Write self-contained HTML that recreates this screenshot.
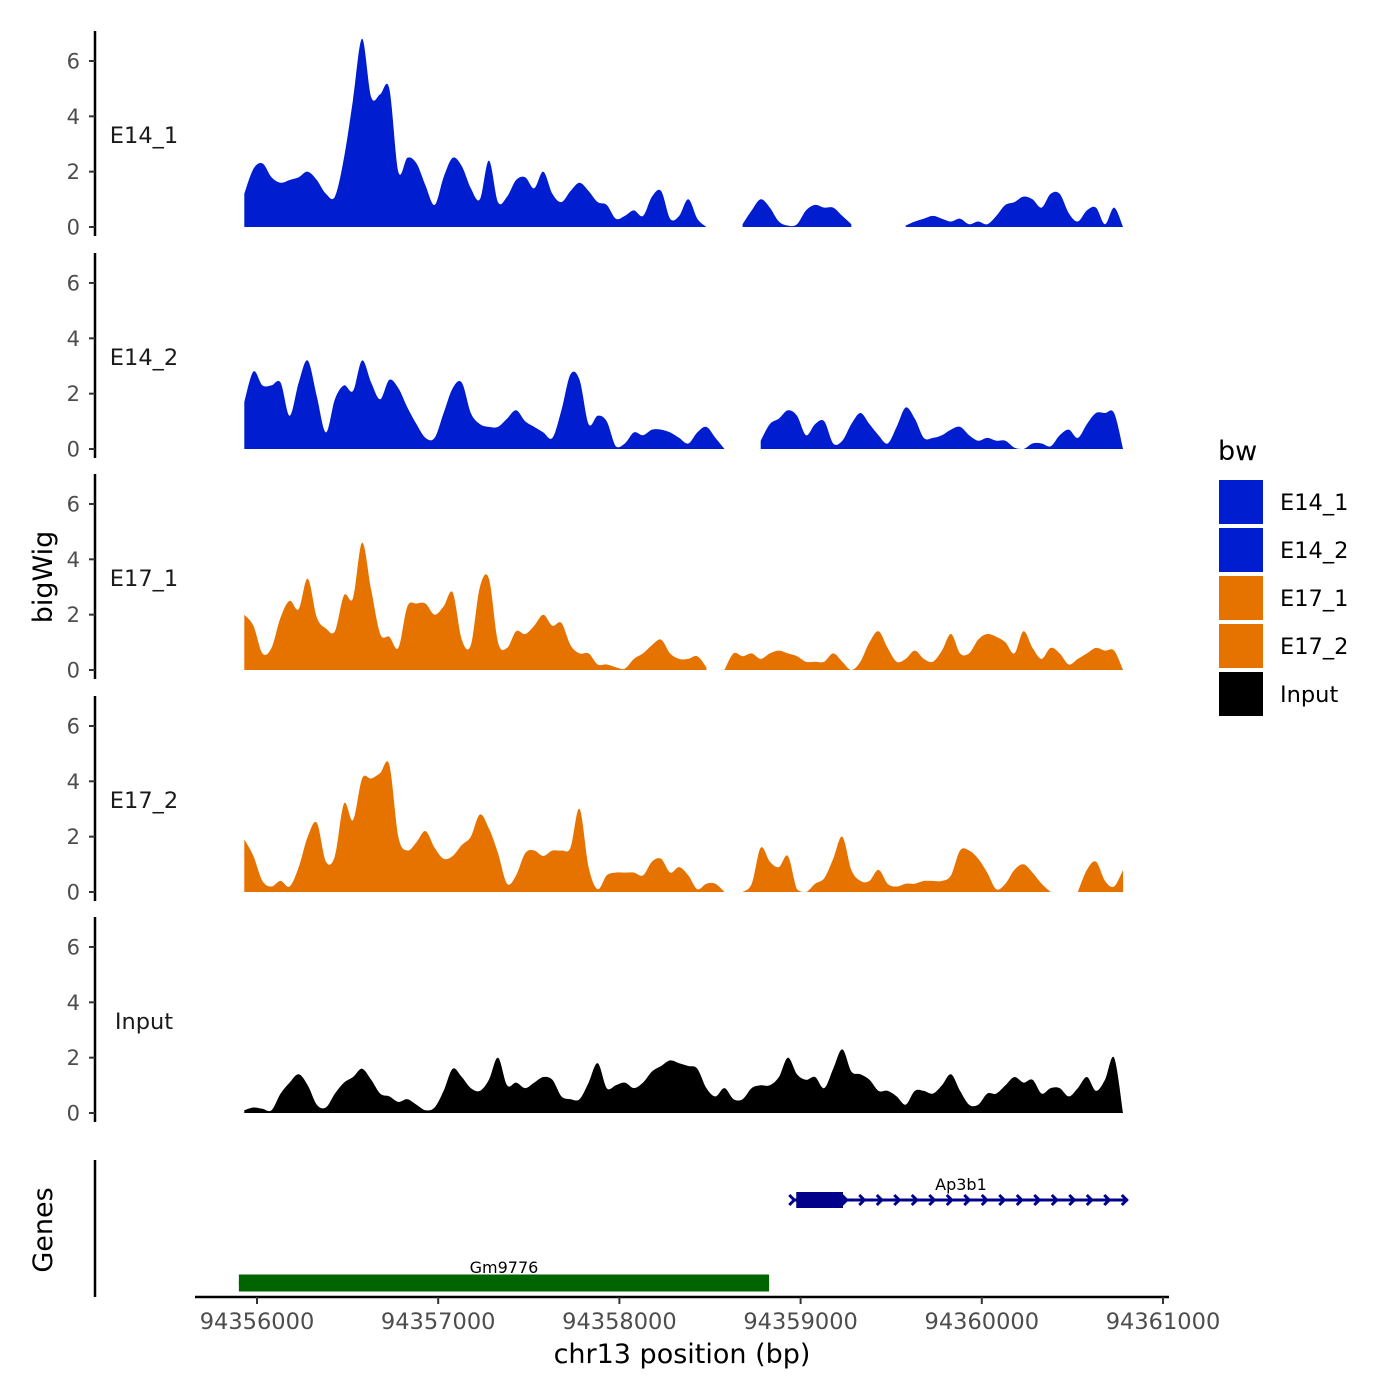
<!DOCTYPE html>
<html><head><meta charset="utf-8"><style>
body{margin:0;background:#fff}
svg{display:block;font-family:"DejaVu Sans","Liberation Sans",sans-serif}
</style></head><body>
<svg id="chart" width="1400" height="1400" viewBox="0 0 1400 1400" xmlns="http://www.w3.org/2000/svg"></svg>
<script>
const regionStart = 94355930;
const binStep = 50;
const trackNames = ["E14_1","E14_2","E17_1","E17_2","Input"];
const e14_1 = [1.2,2.1,2.3,1.8,1.6,1.7,1.8,2.0,1.7,1.2,1.1,2.5,4.6,6.8,4.7,4.8,5.0,2.0,2.5,2.3,1.5,0.8,1.8,2.5,2.2,1.4,1.0,2.4,0.9,1.1,1.7,1.8,1.4,2.0,1.2,0.9,1.3,1.6,1.3,0.9,0.8,0.3,0.4,0.6,0.4,1.1,1.3,0.3,0.4,1.0,0.3,0,null,null,null,0.1,0.6,1.0,0.7,0.2,0.05,0.1,0.6,0.8,0.7,0.7,0.4,0.1,null,null,null,null,null,0.05,0.2,0.3,0.4,0.3,0.2,0.3,0.1,0.2,0.1,0.4,0.8,0.9,1.1,1.0,0.7,1.2,1.2,0.5,0.2,0.6,0.7,0.1,0.7,0];
const e14_2 = [1.7,2.8,2.3,2.3,2.4,1.2,2.4,3.2,1.9,0.6,1.8,2.3,2.1,3.2,2.4,1.8,2.5,2.2,1.5,0.9,0.4,0.4,1.3,2.2,2.4,1.3,0.9,0.8,0.8,1.1,1.4,1.0,0.8,0.6,0.4,1.4,2.7,2.5,0.9,1.2,1.0,0.1,0.2,0.6,0.5,0.7,0.7,0.6,0.4,0.2,0.6,0.8,0.4,0.0,null,null,null,0.3,0.9,1.1,1.4,1.2,0.5,0.9,1.0,0.2,0.3,0.9,1.3,0.9,0.5,0.2,0.8,1.5,1.1,0.4,0.4,0.5,0.7,0.8,0.5,0.3,0.4,0.3,0.3,0.05,0,0.2,0.2,0.1,0.5,0.7,0.4,0.9,1.3,1.3,1.3,0];
const e17_1 = [2.0,1.6,0.6,0.8,1.9,2.5,2.2,3.3,1.9,1.5,1.4,2.7,2.6,4.6,2.9,1.3,1.2,0.8,2.3,2.4,2.4,2.0,2.3,2.8,1.1,0.9,3.0,3.3,1.0,0.8,1.4,1.3,1.6,2.0,1.6,1.7,0.9,0.6,0.6,0.2,0.2,0.1,0.05,0.4,0.6,0.9,1.1,0.6,0.4,0.4,0.5,0.1,null,0.0,0.6,0.5,0.6,0.4,0.6,0.7,0.6,0.5,0.3,0.3,0.3,0.6,0.3,0.0,0.3,1.0,1.4,0.8,0.3,0.4,0.7,0.4,0.3,0.7,1.3,0.6,0.6,1.1,1.3,1.2,1.0,0.6,1.4,0.8,0.4,0.8,0.6,0.2,0.4,0.6,0.8,0.7,0.7,0];
const e17_2 = [1.9,1.3,0.4,0.2,0.4,0.2,0.9,2.0,2.5,1.1,1.3,3.2,2.6,4.1,4.1,4.3,4.6,2.0,1.5,1.8,2.2,1.6,1.2,1.3,1.7,2.0,2.8,2.3,1.4,0.3,0.6,1.4,1.5,1.3,1.5,1.5,1.6,3.0,0.9,0.1,0.6,0.7,0.7,0.7,0.6,1.1,1.2,0.7,0.9,0.6,0.1,0.3,0.3,0.0,null,0.0,0.3,1.6,1.1,0.9,1.3,0.1,0.0,0.3,0.5,1.2,2.0,0.8,0.4,0.4,0.8,0.3,0.2,0.3,0.3,0.4,0.4,0.4,0.6,1.5,1.5,1.2,0.7,0.1,0.3,0.8,1.0,0.7,0.3,0.0,null,null,0.0,0.8,1.1,0.4,0.2,0.8];
const inputTrack = [0.1,0.2,0.15,0.1,0.7,1.1,1.4,1.0,0.3,0.2,0.7,1.1,1.3,1.6,1.2,0.7,0.6,0.4,0.5,0.3,0.1,0.2,0.8,1.6,1.3,0.9,0.8,1.2,2.0,1.0,1.1,0.9,1.1,1.3,1.2,0.6,0.5,0.5,1.1,1.8,0.9,1.0,1.1,0.9,1.1,1.5,1.7,1.9,1.8,1.7,1.6,0.9,0.6,0.9,0.5,0.5,0.9,1.0,1.0,1.3,2.0,1.4,1.2,1.3,0.9,1.6,2.3,1.5,1.4,1.2,0.8,0.8,0.6,0.3,0.8,0.8,0.7,1.0,1.4,0.8,0.3,0.3,0.7,0.7,1.0,1.3,1.1,1.2,0.7,0.9,0.9,0.6,0.9,1.3,0.8,1.2,2.0,0];
const trackColors = ["#001ECF","#001ECF","#E67300","#E67300","#000000"];
const yTicks = [0,2,4,6];
const xTicks = [94356000,94357000,94358000,94359000,94360000,94361000];
const genes = ["Ap3b1","Gm9776"];
const geneStarts = [94358965,94355900];
const geneEnds = [94360805,94358826];
const geneCdsEnds = [94359234,94358826];

const NS="http://www.w3.org/2000/svg";
const svg=document.getElementById('chart');
function mk(tag,attrs,parent){const e=document.createElementNS(NS,tag);for(const k in attrs)e.setAttribute(k,attrs[k]);(parent||svg).appendChild(e);return e;}
const xScale=bp=>257+(bp-94356000)*0.1812;
const panelBase=[227,449,670,892,1113];
const yUnit=27.67;
const series=[e14_1,e14_2,e17_1,e17_2,inputTrack];

series.forEach((vals,p)=>{
  const base=panelBase[p];
  const g=mk('g',{});
  
  
  const ax=mk('line',{x1:95,x2:95,y1:base-196,y2:base+9,stroke:'#000','stroke-width':2.5},g);
  
  
  yTicks.forEach(t=>{
    const y=base-t*yUnit;
    const tk=mk('line',{x1:89,x2:95,y1:y,y2:y,stroke:'#333','stroke-width':2},g);
    
    
    const tl=mk('text',{x:80,y:y+7.5,'text-anchor':'end','font-size':21,fill:'#4d4d4d'},g);
    tl.textContent=t;
    
    
  });
  const lab=mk('text',{x:144,y:base-84,'text-anchor':'middle','font-size':22.5,fill:'#1a1a1a'},g);
  lab.textContent=trackNames[p];
  
  
  let segs=[],cur=[];
  vals.forEach((v,i)=>{
    if(v===null){if(cur.length)segs.push(cur);cur=[];}
    else cur.push([xScale(regionStart+i*binStep),base-v*yUnit]);
  });
  if(cur.length)segs.push(cur);
  segs.forEach(s=>{
    let d='M'+s[0][0].toFixed(1)+','+base+'L'+s[0][0].toFixed(1)+','+s[0][1].toFixed(1);
    for(let i=0;i<s.length-1;i++){
      const p0=s[Math.max(0,i-1)],p1=s[i],p2=s[i+1],p3=s[Math.min(s.length-1,i+2)];
      const c1x=p1[0]+(p2[0]-p0[0])/6,c1y=Math.min(base,p1[1]+(p2[1]-p0[1])/6);
      const c2x=p2[0]-(p3[0]-p1[0])/6,c2y=Math.min(base,p2[1]-(p3[1]-p1[1])/6);
      d+='C'+c1x.toFixed(1)+','+c1y.toFixed(1)+' '+c2x.toFixed(1)+','+c2y.toFixed(1)+' '+p2[0].toFixed(1)+','+p2[1].toFixed(1);
    }
    d+='L'+s[s.length-1][0].toFixed(1)+','+base+'Z';
    const a=mk('path',{d:d,fill:trackColors[p],stroke:'none'},g);
    
    
  });
});

const yt=mk('text',{x:0,y:0,transform:'translate(52,577) rotate(-90)','text-anchor':'middle','font-size':27,fill:'#000'});
yt.textContent='bigWig';



const gg=mk('g',{});


const gax=mk('line',{x1:95,x2:95,y1:1160,y2:1297,stroke:'#000','stroke-width':2.5},gg);


const gt=mk('text',{x:0,y:0,transform:'translate(52,1230) rotate(-90)','text-anchor':'middle','font-size':27,fill:'#000'},gg);
gt.textContent='Genes';


const geneRowY=[1200,1283];
const geneColors=["#00008B","#006400"];
genes.forEach((name,i)=>{
  const x1=xScale(geneStarts[i]),x2=xScale(geneEnds[i]),xc=xScale(geneCdsEnds[i]),y=geneRowY[i];
  const ln=mk('line',{x1:x1,x2:x2,y1:y,y2:y,stroke:geneColors[i],'stroke-width':3},gg);
  
  
  const h=i===0?16:17;
  const bx=mk('rect',{x:x1+(i===0?2:0),y:y-h/2,width:xc-x1-(i===0?2:0),height:h,fill:geneColors[i]},gg);
  
  
  if(i===0){
    for(let x=x1;x<=x2+1;x+=17.5){
      const ch=mk('polyline',{points:(x-5)+','+(y-5)+' '+x+','+y+' '+(x-5)+','+(y+5),fill:'none',stroke:geneColors[i],'stroke-width':3},gg);
      
      
    }
  }
  const gl=mk('text',{x:(x1+x2)/2,y:y-10,'text-anchor':'middle','font-size':16,fill:'#000'},gg);
  gl.textContent=name;
  
  
});

const xl=mk('line',{x1:195,x2:1169,y1:1297,y2:1297,stroke:'#000','stroke-width':2.5});


xTicks.forEach(t=>{
  const x=xScale(t);
  const tk=mk('line',{x1:x,x2:x,y1:1297,y2:1304,stroke:'#333','stroke-width':2});
  
  
  const tl=mk('text',{x:x,y:1329,'text-anchor':'middle','font-size':22.5,fill:'#4d4d4d'});
  tl.textContent=t;
  
  
});
const xt=mk('text',{x:682,y:1363,'text-anchor':'middle','font-size':27,fill:'#000'});
xt.textContent='chr13 position (bp)';



const lg=mk('g',{});


const lt=mk('text',{x:1218,y:460,'font-size':27,fill:'#000'},lg);
lt.textContent='bw';


trackNames.forEach((n,i)=>{
  const y=480+i*48;
  const r=mk('rect',{x:1219,y:y,width:44,height:44,fill:trackColors[i]},lg);
  
  
  const t=mk('text',{x:1280,y:y+30,'font-size':22.5,fill:'#000'},lg);
  t.textContent=n;
  
  
});
</script>
</body></html>
